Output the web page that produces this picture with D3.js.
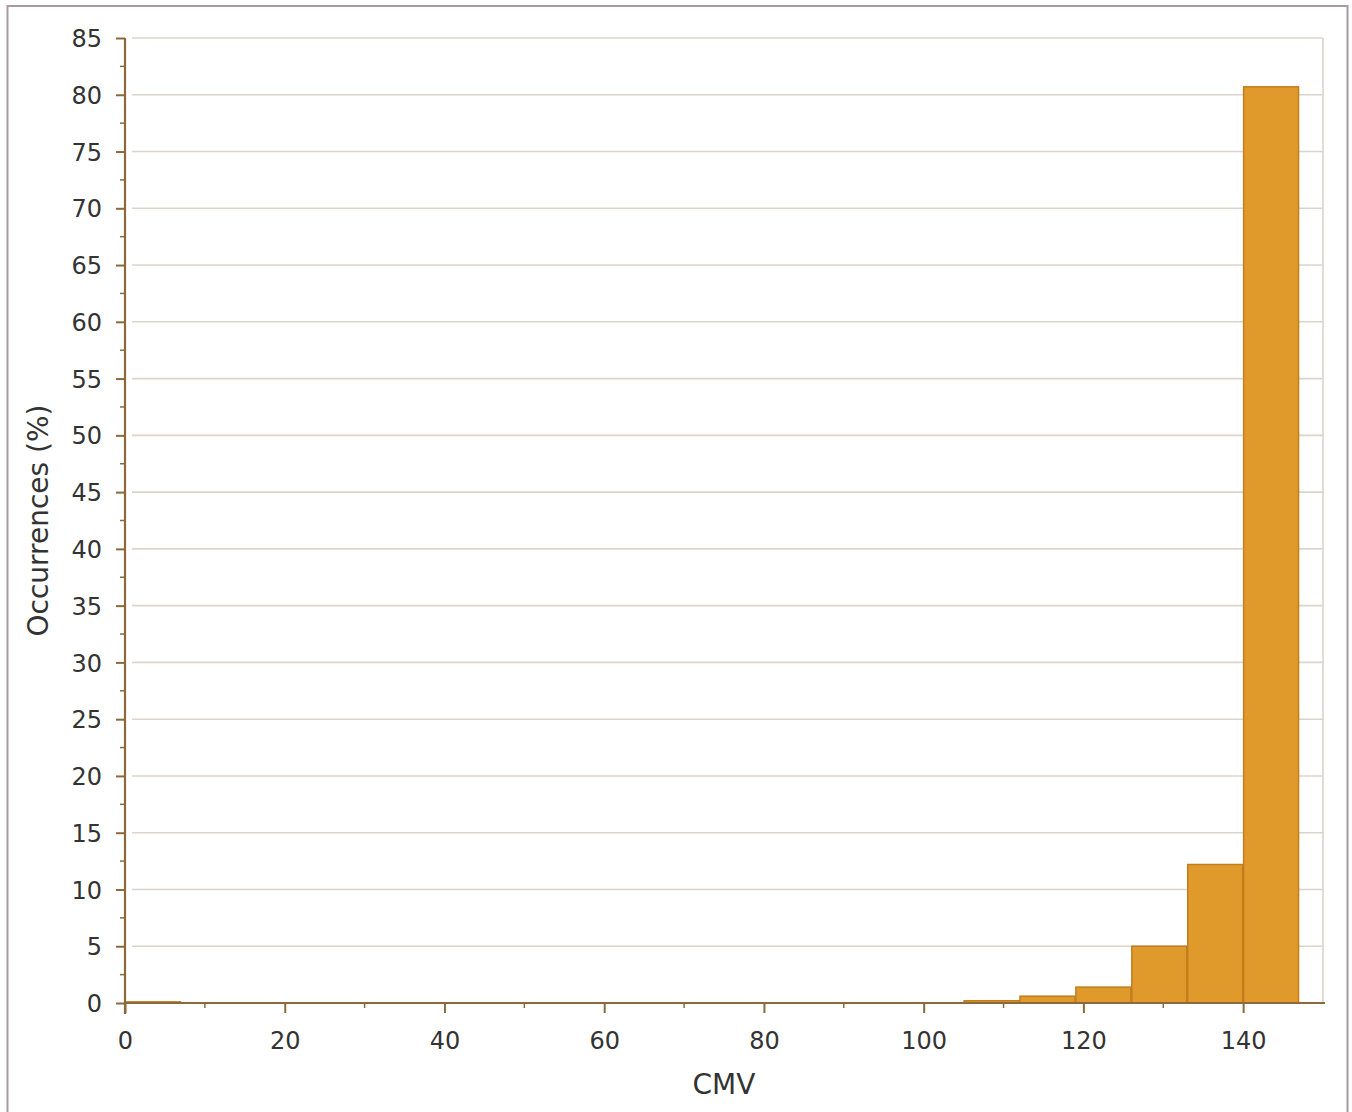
<!DOCTYPE html>
<html><head><meta charset="utf-8">
<script src="https://cdn.jsdelivr.net/npm/d3@7"></script>
<style>
html,body{margin:0;padding:0;background:#fff;}
svg{display:block;}
</style></head>
<body>
<svg id="chart" width="1352" height="1112"></svg>
<script>
// Histogram bins (CMV), width 7
const binStarts = [0,7,14,21,28,35,42,49,56,63,70,77,84,91,98,105,112,119,126,133,140];
const binWidth = 7;
const occurrences = [0.1,0,0,0,0,0,0,0,0,0,0,0,0,0,0,0.2,0.6,1.4,5.0,12.2,80.7];
const xTicks = [0,20,40,60,80,100,120,140];
const yTicks = [0,5,10,15,20,25,30,35,40,45,50,55,60,65,70,75,80,85];
const xTitle = "CMV";
const yTitle = "Occurrences (%)";

const svg = d3.select("#chart");
const font = "'DejaVu Sans', Verdana, sans-serif";
const axisColor = "#8a6a3c";
const gridColor = "#dcd4cc";

// outer frame
svg.append("rect").attr("x",7.5).attr("y",6).attr("width",1340).attr("height",1110)
  .attr("fill","none").attr("stroke","#a89aa2").attr("stroke-width",2);

const L = 125, R = 1323, T = 38, B = 1003;
const x = d3.scaleLinear().domain([0,150]).range([L,R]);
const y = d3.scaleLinear().domain([0,85]).range([B,T]);

// gridlines
svg.append("g").selectAll("line").data(yTicks.filter(d=>d>0)).join("line")
  .attr("x1",L+7).attr("x2",R).attr("y1",d=>y(d)).attr("y2",d=>y(d))
  .attr("stroke",gridColor).attr("stroke-width",1.6);
// right frame
svg.append("line").attr("x1",R).attr("x2",R).attr("y1",T).attr("y2",B)
  .attr("stroke",gridColor).attr("stroke-width",1.6);

// bars
svg.append("g").selectAll("rect").data(binStarts.map((s,i)=>({s,v:occurrences[i]})).filter(d=>d.v>0)).join("rect")
  .attr("x",d=>x(d.s)+0.5).attr("width",d=>x(d.s+binWidth)-x(d.s)-1)
  .attr("y",d=>y(d.v)).attr("height",d=>B-y(d.v))
  .attr("fill","#e09a2c").attr("stroke","#c27d1c").attr("stroke-width",1.5);

// minor ticks y
svg.append("g").selectAll("line").data(d3.range(2.5,85,5)).join("line")
  .attr("x1",L-5).attr("x2",L).attr("y1",d=>y(d)).attr("y2",d=>y(d))
  .attr("stroke",axisColor).attr("stroke-width",1.5);
// minor ticks x
svg.append("g").selectAll("line").data(d3.range(10,150,20)).join("line")
  .attr("x1",d=>x(d)).attr("x2",d=>x(d)).attr("y1",B).attr("y2",B+5)
  .attr("stroke",axisColor).attr("stroke-width",1.5);

// y axis
const yAxis = svg.append("g").attr("transform",`translate(${L},0)`)
  .call(d3.axisLeft(y).tickValues(yTicks).tickSize(9).tickPadding(14).tickSizeOuter(0));
// x axis
const xAxis = svg.append("g").attr("transform",`translate(0,${B})`)
  .call(d3.axisBottom(x).tickValues(xTicks).tickSize(10).tickPadding(14).tickSizeOuter(0));
[yAxis,xAxis].forEach(g=>{
  g.select(".domain").attr("stroke",axisColor).attr("stroke-width",2.2);
  g.selectAll(".tick line").attr("stroke",axisColor).attr("stroke-width",2);
  g.selectAll("text").attr("fill","#333").style("font-family",font).style("font-size","24px");
});
xAxis.select(".domain").attr("d",`M${L},0H${R+2}`);
yAxis.select(".domain").attr("d",`M0,${B+11}V${T}`);
xAxis.selectAll(".tick text").attr("dy","0.9em");
yAxis.selectAll(".tick text").attr("dy","0.36em");

// titles
svg.append("text").attr("x",(L+R)/2).attr("y",1094).attr("text-anchor","middle")
  .attr("fill","#333").style("font-family",font).style("font-size","28px").text(xTitle);
svg.append("text").attr("transform",`translate(48,${(T+B)/2}) rotate(-90)`).attr("text-anchor","middle")
  .attr("fill","#333").style("font-family",font).style("font-size","28px").text(yTitle);
</script>
</body></html>
